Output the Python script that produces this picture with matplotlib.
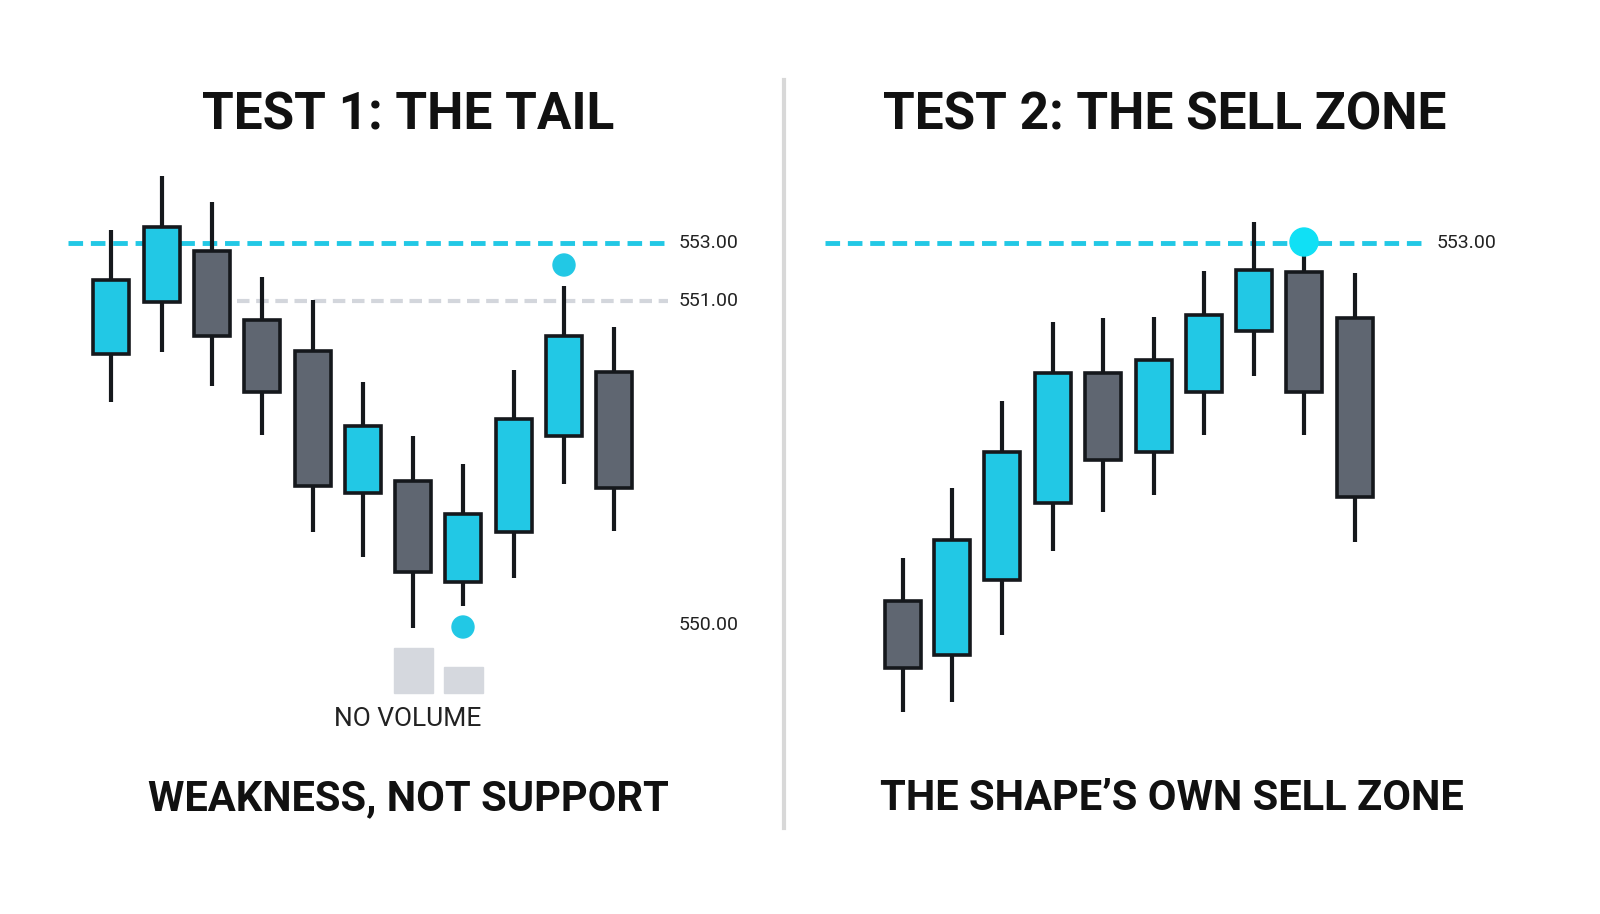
import matplotlib
matplotlib.use("Agg")
import matplotlib.pyplot as plt
from matplotlib.patches import Rectangle, Circle

plt.rcParams['font.family'] = ['Roboto', 'DejaVu Sans']

# chart levels are on a screen-level scale (larger = lower)
left_x = [111, 162, 212, 262, 313, 363, 413, 463, 514, 564, 614]
left_high = [230, 176, 202, 277, 300, 382, 436, 464, 370, 286, 327]
left_low = [402, 352, 386, 435, 532, 557, 628, 606, 578, 484, 531]
left_top = [280, 227, 251, 320, 351, 426, 481, 514, 419, 336, 372]
left_bot = [354, 302, 336, 392, 486, 493, 572, 582, 532, 436, 488]
left_bull = [1, 1, 0, 0, 0, 1, 0, 1, 1, 1, 0]

right_x = [903, 952, 1002, 1053, 1103, 1154, 1204, 1254, 1304, 1355]
right_high = [558, 488, 401, 322, 318, 317, 271, 222, 250, 273]
right_low = [712, 702, 635, 551, 512, 495, 435, 376, 435, 542]
right_top = [601, 540, 452, 373, 373, 360, 315, 270, 272, 318]
right_bot = [668, 655, 580, 503, 460, 452, 392, 331, 392, 497]
right_bull = [0, 1, 1, 1, 0, 1, 1, 1, 0, 0]

levels_left = {"553.00": 243, "551.00": 301, "550.00": 625}
CYAN = "#22c8e5"
GRAY = "#5f6671"
EDGE = "#15181c"

fig = plt.figure(figsize=(16, 9.14), dpi=100)
ax = fig.add_axes([0, 0, 1, 1])
ax.set_xlim(0, 1600)
ax.set_ylim(914, 0)
ax.axis("off")

def candles(xs, hi, lo, top, bot, bull, w=36):
    for x, h, l, t, b, u in zip(xs, hi, lo, top, bot, bull):
        ax.plot([x, x], [h, l], color=EDGE, lw=3, zorder=2, solid_capstyle="butt")
        ax.add_patch(Rectangle((x - w / 2, t), w, b - t, facecolor=CYAN if u else GRAY,
                               edgecolor=EDGE, lw=2.6, zorder=3))

# left panel
ax.plot([68, 668], [243, 243], color=CYAN, lw=3.5, ls=(0, (3, 1.6)), zorder=1)
ax.plot([237, 668], [301, 301], color="#d3d6dc", lw=3, ls=(0, (3, 1.6)), zorder=1)
for lab, y in levels_left.items():
    ax.text(679, y, lab, fontsize=14, va="center", ha="left", color="#222")
candles(left_x, left_high, left_low, left_top, left_bot, left_bull)
ax.add_patch(Circle((564, 265), 11, color=CYAN, zorder=4))
ax.add_patch(Circle((463, 627), 11, color=CYAN, zorder=4))
ax.add_patch(Rectangle((394, 648), 39, 45, color="#d5d8de"))
ax.add_patch(Rectangle((444, 667), 39, 26, color="#d5d8de"))
ax.text(408, 719, "NO VOLUME", fontsize=19, ha="center", va="center", color="#222")

# right panel
ax.plot([825, 1425], [243, 243], color=CYAN, lw=3.5, ls=(0, (3, 1.6)), zorder=1)
ax.text(1437, 243, "553.00", fontsize=14, va="center", ha="left", color="#222")
candles(right_x, right_high, right_low, right_top, right_bot, right_bull)
ax.add_patch(Circle((1304, 242), 14, color="#10e0f5", zorder=4))

# divider
ax.plot([784, 784], [80, 828], color="#d8d8d8", lw=3)

tk = dict(fontsize=37, fontweight="bold", ha="center", va="center", color="#111")
ax.text(408, 115, "TEST 1: THE TAIL", **tk)
ax.text(1165, 115, "TEST 2: THE SELL ZONE", **tk)
tk["fontsize"] = 30
ax.text(408, 799, "WEAKNESS, NOT SUPPORT", **tk)
ax.text(1172, 799, "THE SHAPE\u2019S OWN SELL ZONE", **tk)

fig.savefig("out.png", dpi=100, facecolor="white")
